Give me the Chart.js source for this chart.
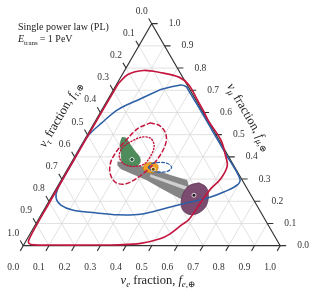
<!DOCTYPE html>
<html>
<head>
<meta charset="utf-8">
<title>Flavor triangle</title>
<script src="https://cdn.jsdelivr.net/npm/chart.js@4.4.1/dist/chart.umd.min.js"></script>
<style>
	html, body { margin: 0; padding: 0; background: #fff; }
	#wrap { width: 316px; height: 294px; }
</style>
</head>
<body>
<div id="wrap"><canvas id="flavor_chart"></canvas></div>
<script>
// every point is [f_e, f_mu]; f_tau = 1 - f_e - f_mu
const tick_values = [0.0, 0.1, 0.2, 0.3, 0.4, 0.5, 0.6, 0.7, 0.8, 0.9, 1.0];
const tick_labels = ['0.0', '0.1', '0.2', '0.3', '0.4', '0.5', '0.6', '0.7', '0.8', '0.9', '1.0'];

const red_outer = [
	[0.005, 0.73], [0.022, 0.771], [0.073, 0.789], [0.142, 0.780], [0.229, 0.758],
	[0.284, 0.723], [0.344, 0.662], [0.399, 0.606], [0.440, 0.562], [0.532, 0.475],
	[0.585, 0.405], [0.615, 0.358], [0.618, 0.300], [0.602, 0.257], [0.594, 0.200],
	[0.586, 0.118], [0.571, 0.096], [0.544, 0.052], [0.517, 0.031], [0.452, 0.010],
	[0.37, 0.004], [0.25, 0.003], [0.12, 0.003], [0.04, 0.004], [0.018, 0.01],
	[0.008, 0.03], [0.005, 0.2], [0.004, 0.45], [0.005, 0.73]
];
const blue_outer = [
	[0.181, 0.702], [0.246, 0.723], [0.275, 0.717], [0.293, 0.700], [0.385, 0.610],
	[0.490, 0.505], [0.590, 0.405], [0.692, 0.302], [0.697, 0.275], [0.663, 0.244],
	[0.613, 0.216], [0.538, 0.192], [0.473, 0.170], [0.386, 0.142], [0.300, 0.139],
	[0.205, 0.148], [0.111, 0.161], [0.055, 0.183], [0.021, 0.214], [0.006, 0.257],
	[0.004, 0.38], [0.004, 0.49], [0.029, 0.553], [0.063, 0.614], [0.126, 0.662],
	[0.181, 0.702]
];
const red_dashed = [
	[0.218, 0.553], [0.262, 0.540], [0.302, 0.505], [0.324, 0.462], [0.329, 0.405],
	[0.318, 0.353], [0.294, 0.309], [0.261, 0.279], [0.221, 0.283], [0.181, 0.318],
	[0.154, 0.370], [0.151, 0.423], [0.163, 0.475], [0.182, 0.527], [0.218, 0.553]
];
const red_dotted = [
	[0.177, 0.462], [0.213, 0.488], [0.253, 0.484], [0.285, 0.449], [0.294, 0.401],
	[0.285, 0.366], [0.252, 0.357], [0.204, 0.370], [0.171, 0.405], [0.165, 0.440],
	[0.177, 0.462]
];
const blue_dashed = [
	[0.310, 0.353], [0.317, 0.370], [0.345, 0.375], [0.377, 0.370], [0.401, 0.353],
	[0.395, 0.336], [0.366, 0.331], [0.334, 0.336], [0.310, 0.353]
];
const green_region = [
	[0.141, 0.488], [0.158, 0.484], [0.186, 0.458], [0.220, 0.427], [0.255, 0.397],
	[0.268, 0.370], [0.252, 0.357], [0.223, 0.362], [0.195, 0.379], [0.172, 0.418],
	[0.148, 0.458], [0.141, 0.488]
];
const orange_region = [
	[0.289, 0.366], [0.307, 0.375], [0.338, 0.366], [0.350, 0.349], [0.348, 0.331],
	[0.321, 0.331], [0.296, 0.344], [0.289, 0.366]
];
const gray_cone = [
	[0.177, 0.379], [0.224, 0.375], [0.286, 0.357], [0.357, 0.336], [0.428, 0.314],
	[0.490, 0.296], [0.573, 0.183], [0.491, 0.218], [0.401, 0.261], [0.331, 0.296],
	[0.265, 0.322], [0.209, 0.344], [0.185, 0.362], [0.177, 0.379]
];
const gray_stripe = [
	[0.333, 0.322], [0.505, 0.266], [0.514, 0.248], [0.340, 0.309], [0.333, 0.322]
];
const purple_region = [
	[0.542, 0.283], [0.577, 0.266], [0.605, 0.231], [0.622, 0.183], [0.614, 0.153],
	[0.587, 0.139], [0.550, 0.153], [0.521, 0.187], [0.505, 0.235], [0.510, 0.270],
	[0.542, 0.283]
];
const best_fits = [[0.229, 0.388], [0.334, 0.344], [0.551, 0.227]];

const SQ = Math.sqrt(3) / 2;
const SERIF = '"Liberation Serif", "DejaVu Serif", serif';

function to_xy(p) {
	return { x: p[0] + p[1] / 2, y: p[1] * SQ };
}

function pix(chart, fe, fmu) {
	const q = to_xy([fe, fmu]);
	return [chart.scales.x.getPixelForValue(q.x), chart.scales.y.getPixelForValue(q.y)];
}

function contour(pts, color, width, dash) {
	return {
		data: pts.map(to_xy),
		showLine: true,
		borderColor: color,
		borderWidth: width,
		borderDash: dash,
		borderCapStyle: 'round',
		borderJoinStyle: 'round',
		pointRadius: 0,
		tension: 0.35,
		fill: false
	};
}

function region(pts, fill, border, width, tension = 0.35) {
	return {
		data: pts.map(to_xy),
		showLine: true,
		backgroundColor: fill,
		borderColor: border,
		borderWidth: width,
		pointRadius: 0,
		tension: tension,
		fill: 'shape'
	};
}

function rich(ctx, parts, x, y, angle, size) {
	ctx.save();
	ctx.translate(x, y);
	ctx.rotate(angle);
	ctx.textBaseline = 'middle';
	ctx.textAlign = 'left';
	const font_of = p => (p.i ? 'italic ' : '') + (p.s ? size * 0.72 : size) + 'px ' + SERIF;
	let total = 0;
	const widths = parts.map(p => {
		ctx.font = font_of(p);
		const w = ctx.measureText(p.t).width;
		total += w;
		return w;
	});
	let cx = -total / 2;
	parts.forEach((p, i) => {
		ctx.font = font_of(p);
		ctx.fillText(p.t, cx, p.s ? size * 0.3 : 0);
		cx += widths[i];
	});
	ctx.restore();
}

const frame_plugin = {
	id: 'frame',
	beforeDatasetsDraw(chart) {
		const ctx = chart.ctx;
		ctx.save();
		// grid
		ctx.strokeStyle = '#d9d9d9';
		ctx.lineWidth = 0.8;
		tick_values.slice(1, -1).forEach(v => {
			[[[v, 0], [v, 1 - v]], [[0, v], [1 - v, v]], [[1 - v, 0], [0, 1 - v]]].forEach(seg => {
				const a = pix(chart, seg[0][0], seg[0][1]), b = pix(chart, seg[1][0], seg[1][1]);
				ctx.beginPath();
				ctx.moveTo(a[0], a[1]);
				ctx.lineTo(b[0], b[1]);
				ctx.stroke();
			});
		});
		// triangle
		const c1 = pix(chart, 0, 0), c2 = pix(chart, 1, 0), c3 = pix(chart, 0, 1);
		ctx.strokeStyle = '#333';
		ctx.lineWidth = 1.1;
		ctx.beginPath();
		ctx.moveTo(c1[0], c1[1]);
		ctx.lineTo(c2[0], c2[1]);
		ctx.lineTo(c3[0], c3[1]);
		ctx.closePath();
		ctx.stroke();
		// ticks
		const L = 6;
		tick_values.forEach(v => {
			const b = pix(chart, v, 0), r = pix(chart, 1 - v, v), l = pix(chart, 0, 1 - v);
			ctx.beginPath();
			ctx.moveTo(b[0], b[1]); ctx.lineTo(b[0] - L * 0.5, b[1] + L * SQ);
			ctx.moveTo(r[0], r[1]); ctx.lineTo(r[0] + L, r[1]);
			ctx.moveTo(l[0], l[1]); ctx.lineTo(l[0] - L * 0.5, l[1] - L * SQ);
			ctx.stroke();
		});
		ctx.restore();
	},
	afterDraw(chart) {
		const ctx = chart.ctx;
		ctx.save();
		ctx.fillStyle = '#333';
		ctx.font = '9.5px ' + SERIF;
		ctx.textBaseline = 'middle';
		tick_values.forEach((v, i) => {
			const b = pix(chart, v, 0), r = pix(chart, 1 - v, v), l = pix(chart, 0, 1 - v);
			ctx.textAlign = 'center';
			ctx.fillText(tick_labels[i], b[0] - 10, b[1] + 22);
			ctx.fillText(tick_labels[i], l[0] - 10, l[1] - 12.5);
			ctx.textAlign = 'left';
			ctx.fillText(tick_labels[i], r[0] + 17, r[1]);
		});
		// axis titles
		ctx.fillStyle = '#222';
		const bt = pix(chart, 0.525, 0);
		rich(ctx, [{ t: 'ν', i: 1 }, { t: 'e', i: 1, s: 1 }, { t: ' fraction, ' }, { t: 'f', i: 1 }, { t: 'e,⊕', i: 1, s: 1 }],
			bt[0], bt[1] + 35, 0, 12.5);
		const lt = pix(chart, 0, 0.515);
		rich(ctx, [{ t: 'ν', i: 1 }, { t: 'τ', i: 1, s: 1 }, { t: ' fraction, ' }, { t: 'f', i: 1 }, { t: 'τ,⊕', i: 1, s: 1 }],
			lt[0] - 33 * SQ, lt[1] - 16.5, -Math.PI / 3, 12.5);
		const rt = pix(chart, 0.505, 0.495);
		rich(ctx, [{ t: 'ν', i: 1 }, { t: 'μ', i: 1, s: 1 }, { t: ' fraction, ' }, { t: 'f', i: 1 }, { t: 'μ,⊕', i: 1, s: 1 }],
			rt[0] + 37 * SQ, rt[1] - 18.5, Math.PI / 3, 12.5);
		// caption
		ctx.textAlign = 'left';
		ctx.textBaseline = 'alphabetic';
		ctx.font = '10px ' + SERIF;
		ctx.fillText('Single power law (PL)', 18, 30);
		ctx.font = 'italic 10px ' + SERIF;
		ctx.fillText('E', 18, 42);
		let x = 18 + ctx.measureText('E').width;
		ctx.font = '7px ' + SERIF;
		ctx.fillText('trans', x, 45);
		x += ctx.measureText('trans').width + 2;
		ctx.font = '10px ' + SERIF;
		ctx.fillText('= 1 PeV', x, 42);
		ctx.restore();
	}
};

const datasets = [
	{
		data: best_fits.map(to_xy),
		pointRadius: 2,
		pointBackgroundColor: ['#1d4a34', '#6b4a00', '#2a1a2a'],
		pointBorderColor: '#fff',
		pointBorderWidth: 0.8,
		showLine: false
	},
	contour(red_outer, '#c4163e', 1.7, []),
	contour(blue_outer, '#2b5fa6', 1.5, []),
	contour(blue_dashed, '#2b5fa6', 1.2, [3, 2]),
	contour(red_dotted, '#c4163e', 1.4, [1.2, 2]),
	contour(red_dashed, '#c4163e', 1.5, [4, 3]),
	region(orange_region, '#f3a21f', '#d07a10', 0.8),
	region(green_region, '#4f8c5c', '#3e7049', 0.6),
	region(purple_region, '#7b4b70', '#5e3656', 0.8),
	region(gray_stripe, '#cfcfcf', '#cfcfcf', 0, 0),
	region(gray_cone, '#858585', '#858585', 0, 0)
];

new Chart(document.getElementById('flavor_chart'), {
	type: 'scatter',
	data: { datasets: datasets },
	options: {
		responsive: true,
		maintainAspectRatio: false,
		animation: false,
		layout: { padding: 0 },
		plugins: { legend: { display: false }, tooltip: { enabled: false } },
		scales: {
			x: { type: 'linear', display: false, min: -19 / 265, max: 297 / 265 },
			y: { type: 'linear', display: false, min: -45 / 265, max: 249 / 265 }
		}
	},
	plugins: [frame_plugin]
});
</script>
</body>
</html>
